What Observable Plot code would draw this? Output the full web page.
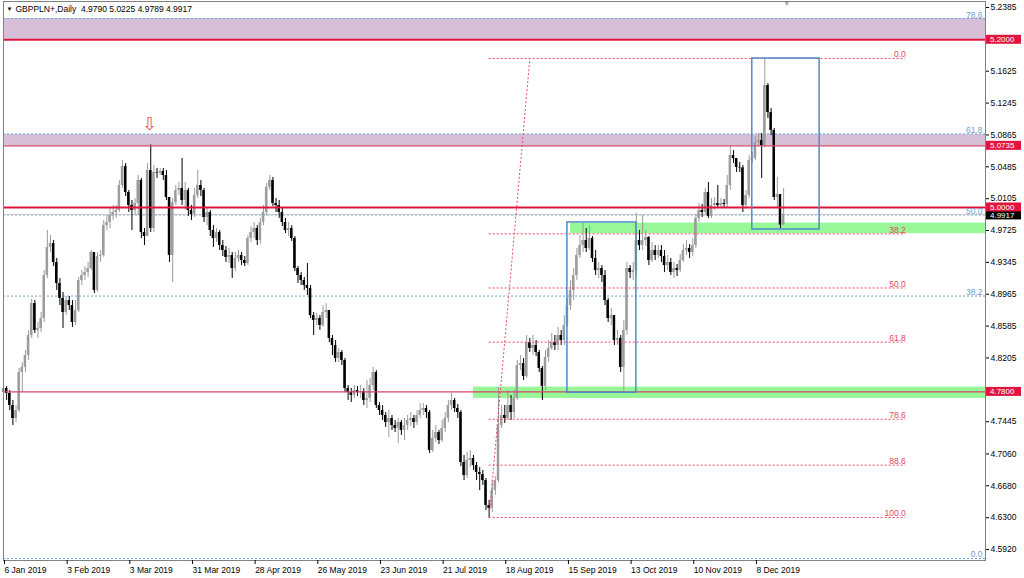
<!DOCTYPE html>
<html><head><meta charset="utf-8">
<script src="https://cdn.jsdelivr.net/npm/d3@7"></script>
<script src="https://cdn.jsdelivr.net/npm/@observablehq/plot@0.6"></script>
<style>body{margin:0;background:#fff}</style>
</head><body><div id="chart"></div>
<script>
const symbolName = "GBPPLN+";
const timeframe = "Daily";
const dateLabels = ["6 Jan 2019","3 Feb 2019","3 Mar 2019","31 Mar 2019","28 Apr 2019","26 May 2019","23 Jun 2019","21 Jul 2019","18 Aug 2019","15 Sep 2019","13 Oct 2019","10 Nov 2019","8 Dec 2019"];
const dateTickIdx = [0,20,40,60,80,100,120,140,160,180,200,220,240];
const yTickValues = [5.2385,5.1625,5.1245,5.0865,5.0485,5.0105,4.9725,4.9345,4.8965,4.8585,4.8205,4.7445,4.7060,4.6680,4.6300,4.5920];

const firstOpen = 4.7793;
const closes = [
4.7841,4.7781,4.7638,4.7483,4.7578,4.8031,4.8092,4.8234,4.8473,4.8854,
4.8533,4.8557,4.8676,4.9188,4.9523,4.9570,4.9343,4.9093,4.8915,4.8747,
4.8890,4.8830,4.8628,4.8771,4.9129,4.9188,4.9224,4.9272,4.9463,4.9010,
4.9415,4.9427,4.9784,4.9820,4.9904,4.9940,4.9964,5.0262,5.0488,5.0178,
5.0023,4.9964,5.0047,5.0322,4.9701,4.9653,5.0441,4.9749,5.0417,5.0410,
5.0429,5.0381,5.0119,4.9427,5.0059,5.0202,5.0227,5.0083,5.0202,4.9964,
4.9916,5.0142,5.0262,5.0202,4.9880,4.9940,4.9725,4.9630,4.9701,4.9546,
4.9487,4.9404,4.9427,4.9272,4.9392,4.9427,4.9367,4.9331,4.9630,4.9701,
4.9749,4.9606,4.9820,4.9940,5.0239,5.0322,5.0047,5.0023,4.9940,4.9820,
4.9725,4.9749,4.9630,4.9272,4.9188,4.9129,4.9069,4.9034,4.8711,4.8652,
4.8676,4.8592,4.8747,4.8771,4.8438,4.8354,4.8199,4.8270,4.8175,4.7841,
4.7793,4.7757,4.7817,4.7793,4.7805,4.7698,4.7722,4.7876,4.8031,4.7638,
4.7578,4.7519,4.7435,4.7483,4.7399,4.7364,4.7435,4.7340,4.7399,4.7459,
4.7483,4.7435,4.7519,4.7578,4.7602,4.7554,4.7101,4.7244,4.7316,4.7220,
4.7364,4.7483,4.7638,4.7698,4.7602,4.7554,4.6958,4.6803,4.6982,4.7006,
4.6922,4.6839,4.6815,4.6743,4.6445,4.6410,4.6624,4.6743,4.7399,4.7519,
4.7483,4.7638,4.7554,4.7722,4.8115,4.8139,4.7984,4.8389,4.8318,4.8354,
4.8270,4.8080,4.7864,4.8211,4.8318,4.8389,4.8354,4.8473,4.8413,4.8592,
4.8830,4.9010,4.9188,4.9427,4.9546,4.9606,4.9511,4.9630,4.9392,4.9248,
4.9272,4.9188,4.8890,4.8676,4.8711,4.8413,4.8438,4.8092,4.8533,4.9272,
4.9224,4.9248,4.9606,4.9546,4.9606,4.9642,4.9367,4.9487,4.9427,4.9487,
4.9415,4.9307,4.9343,4.9224,4.9272,4.9248,4.9367,4.9487,4.9511,4.9463,
4.9546,4.9869,4.9964,4.9940,5.0178,4.9892,5.0023,5.0047,5.0023,5.0047,
5.0035,5.0262,5.0620,5.0584,5.0477,5.0472,5.0023,5.0142,5.0560,5.0584,
5.0775,5.0799,5.0739,5.1455,5.1132,5.0918,5.0119,5.0154,4.9790,4.9917];
const highs = [
4.7900,4.7864,4.7817,4.7698,4.7638,4.8080,4.8151,4.8294,4.8533,4.8902,
4.8890,4.8628,4.8747,4.9248,4.9725,4.9665,4.9606,4.9392,4.9153,4.8986,
4.8938,4.8938,4.8890,4.8890,4.9165,4.9248,4.9295,4.9343,4.9487,4.9427,
4.9463,4.9487,4.9844,4.9904,4.9988,5.0023,5.0023,5.0322,5.0560,5.0524,
5.0202,5.0083,5.0107,5.0381,5.0346,4.9749,5.0524,5.0745,5.0500,5.0465,
5.0465,5.0465,5.0441,5.0119,5.0107,5.0262,5.0298,5.0584,5.0298,5.0227,
5.0023,5.0227,5.0441,5.0322,5.0227,5.0000,4.9964,4.9784,4.9749,4.9725,
4.9606,4.9534,4.9511,4.9463,4.9463,4.9487,4.9463,4.9415,4.9665,4.9772,
4.9820,4.9784,4.9869,5.0023,5.0286,5.0381,5.0358,5.0107,5.0083,4.9988,
4.9869,4.9820,4.9784,4.9653,4.9295,4.9224,4.9165,4.9331,4.9069,4.8747,
4.8735,4.8711,4.8830,4.8854,4.8771,4.8473,4.8413,4.8318,4.8294,4.8199,
4.7876,4.7841,4.7876,4.7864,4.7876,4.7841,4.7936,4.7960,4.8092,4.8055,
4.7674,4.7638,4.7554,4.7578,4.7519,4.7459,4.7483,4.7459,4.7483,4.7519,
4.7554,4.7519,4.7578,4.7662,4.7662,4.7638,4.7578,4.7340,4.7399,4.7340,
4.7459,4.7554,4.7698,4.7781,4.7722,4.7650,4.7578,4.7041,4.7077,4.7101,
4.7041,4.6958,4.6899,4.6863,4.6767,4.6505,4.6743,4.6791,4.7852,4.7638,
4.7638,4.7817,4.7757,4.7817,4.8175,4.8234,4.8199,4.8473,4.8438,4.8473,
4.8413,4.8294,4.8103,4.8294,4.8413,4.8497,4.8473,4.8569,4.8533,4.8711,
4.8915,4.9129,4.9272,4.9511,4.9665,4.9808,4.9749,4.9784,4.9653,4.9487,
4.9343,4.9307,4.9248,4.8915,4.8795,4.8711,4.8533,4.8473,4.8652,4.9343,
4.9307,4.9343,4.9928,4.9725,4.9904,4.9725,4.9653,4.9582,4.9546,4.9546,
4.9546,4.9487,4.9427,4.9392,4.9343,4.9319,4.9439,4.9558,4.9606,4.9558,
4.9630,4.9916,5.0047,5.0035,5.0227,5.0298,5.0107,5.0119,5.0262,5.0107,
5.0095,5.0381,5.0739,5.0679,5.0560,5.0536,5.0500,5.0202,5.0620,5.0656,
5.0846,5.0882,5.0882,5.1777,5.1478,5.1180,5.0942,5.0358,5.0142,5.0225];
const lows = [
4.7722,4.7698,4.7578,4.7399,4.7435,4.7554,4.7793,4.8031,4.8175,4.8438,
4.8497,4.8438,4.8509,4.8628,4.9153,4.9463,4.9295,4.9010,4.8830,4.8557,
4.8711,4.8771,4.8569,4.8592,4.8747,4.9069,4.9129,4.9165,4.9248,4.8974,
4.8986,4.9343,4.9404,4.9725,4.9749,4.9844,4.9869,4.9940,5.0227,5.0130,
4.9940,4.9725,4.9904,4.9904,4.9630,4.9546,4.9653,4.9701,4.9701,5.0346,
5.0381,5.0322,5.0083,4.9343,4.9105,5.0023,5.0142,5.0023,4.9964,4.9892,
4.9844,4.9880,5.0107,5.0130,4.9820,4.9784,4.9653,4.9523,4.9582,4.9487,
4.9415,4.9343,4.9331,4.9153,4.9236,4.9343,4.9307,4.9295,4.9307,4.9582,
4.9630,4.9546,4.9558,4.9784,4.9904,5.0202,5.0011,4.9940,4.9869,4.9772,
4.9689,4.9653,4.9594,4.9236,4.9093,4.9069,4.9010,4.8950,4.8676,4.8473,
4.8592,4.8533,4.8569,4.8676,4.8389,4.8234,4.8151,4.8151,4.8115,4.7793,
4.7698,4.7674,4.7722,4.7745,4.7722,4.7638,4.7602,4.7674,4.7817,4.7602,
4.7519,4.7459,4.7376,4.7256,4.7340,4.7316,4.7184,4.7280,4.7220,4.7340,
4.7387,4.7364,4.7399,4.7483,4.7519,4.7483,4.7065,4.7077,4.7196,4.7172,
4.7196,4.7316,4.7435,4.7578,4.7554,4.7483,4.6910,4.6743,4.6767,4.6899,
4.6863,4.6743,4.6624,4.6684,4.6386,4.6302,4.6362,4.6564,4.6719,4.7364,
4.7423,4.7459,4.7459,4.7483,4.7698,4.8055,4.7936,4.7960,4.8270,4.8234,
4.8222,4.8031,4.7698,4.7817,4.8151,4.8294,4.8294,4.8294,4.8354,4.8354,
4.8569,4.8771,4.8890,4.9129,4.9392,4.9463,4.9463,4.9487,4.9343,4.9188,
4.9153,4.9105,4.8830,4.8628,4.8592,4.8354,4.8354,4.8031,4.7805,4.8473,
4.9153,4.9129,4.9188,4.9487,4.9487,4.9534,4.9307,4.9343,4.9367,4.9392,
4.9343,4.9224,4.9248,4.9188,4.9153,4.9177,4.9224,4.9343,4.9427,4.9392,
4.9415,4.9511,4.9820,4.9880,4.9916,4.9869,4.9869,4.9964,4.9988,5.0000,
5.0000,5.0000,5.0202,5.0524,5.0417,5.0417,4.9940,4.9988,5.0107,5.0524,
5.0560,5.0727,5.0346,5.0715,5.1061,5.0858,5.0083,5.0000,4.9745,4.9789];

// horizontal levels
const majorLevels = [5.2000, 5.0000];
const minorLevels = [5.0735, 4.7800];
const pinkZoneLow = [5.2000, 5.0735];
const pinkZoneHigh = [5.2253, 5.0870];
const greenZoneLow = [4.9688, 4.7722];
const greenZoneHigh = [4.9814, 4.7857];
const greenZoneStart = [181, 150];
// Fibonacci tools
const fibRatios = [0, 0.382, 0.5, 0.618, 0.786, 0.886, 1];
const redFibLabels = ["0.0","38.2","50.0","61.8","78.6","88.6","100.0"];
const redFibHigh = 5.1777, redFibLow = 4.6302;
const redFibAnchorIdx = [155, 168];
const redFibEndIdx = 288;
const blueFibRatios = [0, 0.382, 0.5, 0.618, 0.786];
const blueFibLabels = ["0.0","38.2","50.0","61.8","78.6"];
const blueFibLow = 4.5813, blueFibHigh = 5.4007;
// rectangles
const boxX1 = [180, 239], boxX2 = [202, 260.5];
const boxTop = [4.9821, 5.1777], boxBottom = [4.7790, 4.9737];
// marker arrow bar
const arrowIdx = 47;

const xMax = 313.44;
const bars = closes.map((c, i) => {
  const o = i === 0 ? firstOpen : closes[i - 1];
  return {i, open: o, close: c, high: Math.max(highs[i], o, c), low: Math.min(lows[i], o, c)};
});
const last = bars[bars.length - 1];
const bull = "#9c9c9c", bear = "#000000";
const col = d => d.close >= d.open ? bull : bear;

const redFib = fibRatios.map((r, k) => ({p: redFibHigh - r * (redFibHigh - redFibLow), lbl: redFibLabels[k]}));
const blueFib = blueFibRatios.map((r, k) => ({p: blueFibLow + r * (blueFibHigh - blueFibLow), lbl: blueFibLabels[k]}));
const pinkZones = pinkZoneLow.map((lo, k) => ({lo, hi: pinkZoneHigh[k]}));
const greenZones = greenZoneLow.map((lo, k) => ({lo, hi: greenZoneHigh[k], from: greenZoneStart[k]}));
const boxes = boxX1.map((x1, k) => ({x1, x2: boxX2[k], y1: boxBottom[k], y2: boxTop[k]}));
const header = `${symbolName},${timeframe}  ${last.open.toFixed(4)} ${last.high.toFixed(4)} ${last.low.toFixed(4)} ${last.close.toFixed(4)}`;

const FONT = "'Liberation Sans', Arial, sans-serif";
const chart = Plot.plot({
  width: 1024, height: 578,
  marginLeft: 3, marginRight: 39, marginTop: 1, marginBottom: 18,
  style: {fontFamily: FONT, fontSize: "8.5px", background: "#fff", color: "#000"},
  x: {type: "linear", domain: [0, xMax]},
  y: {domain: [4.57891, 5.24566]},
  marks: [
    Plot.rect(pinkZones, {x1: () => 0, x2: () => xMax, y1: "lo", y2: "hi", fill: "#d8bfd8"}),
    Plot.rect(greenZones, {x1: "from", x2: () => xMax, y1: "lo", y2: "hi", fill: "#98f898"}),
    Plot.ruleY(blueFib, {y: "p", stroke: "#6a9fd6", strokeDasharray: "2,2"}),
    Plot.ruleY([last.close], {stroke: "#c8c8c8"}),
    Plot.ruleX(bars, {x: "i", y1: "low", y2: "high", stroke: col, strokeWidth: 1}),
    Plot.rect(bars, {x1: d => d.i - 0.4, x2: d => d.i + 0.4, y1: "open", y2: "close", fill: col}),
    Plot.ruleY(majorLevels, {stroke: "#e0143c", strokeWidth: 2}),
    Plot.ruleY(minorLevels, {stroke: "#d4456b", strokeWidth: 1.2}),
    Plot.ruleY(redFib, {y: "p", x1: () => redFibAnchorIdx[0], x2: () => redFibEndIdx, stroke: "#ec4a62", strokeDasharray: "2,2"}),
    Plot.link([{}], {x1: () => redFibAnchorIdx[0], y1: () => redFibLow, x2: () => redFibAnchorIdx[1], y2: () => redFibHigh, stroke: "#ec4a62", strokeDasharray: "2,2"}),
    Plot.rect(boxes, {x1: "x1", x2: "x2", y1: "y1", y2: "y2", fill: "none", stroke: "#4f8cc9", strokeWidth: 1.5}),
    Plot.text(redFib, {x: () => redFibEndIdx, y: "p", text: "lbl", textAnchor: "end", lineAnchor: "bottom", dy: -1, fill: "#e5455c"}),
    Plot.text(blueFib, {x: () => xMax, y: "p", text: "lbl", textAnchor: "end", lineAnchor: "bottom", dx: -3, dy: -1, fill: "#6f9fd6"}),
    Plot.text([bars[arrowIdx]], {x: "i", y: "high", text: () => "\u21E9", dy: -21, dx: -1, fill: "#f0505f", fontSize: 18}),
    Plot.text([bars.length], {x: d => d, frameAnchor: "top", text: () => "\u25BC", fill: "#a8a8a8", fontSize: 7, lineAnchor: "top", dy: 0}),
    Plot.text(["\u25BC"], {frameAnchor: "top-left", dx: 3, dy: 8, textAnchor: "start", lineAnchor: "middle", fontSize: 6}),
    Plot.text([header], {frameAnchor: "top-left", dx: 12, dy: 8, textAnchor: "start", lineAnchor: "middle", fontSize: 8.5}),
    Plot.frame({stroke: "#808080"}),
    Plot.axisY({anchor: "right", ticks: yTickValues, tickFormat: d => d.toFixed(4), tickSize: 3, tickPadding: 2, label: null}),
    Plot.axisX({ticks: dateTickIdx, tickFormat: d => dateLabels[dateTickIdx.indexOf(d)], tickSize: 4, tickPadding: 2, textAnchor: "start", dx: 1, label: null})
  ]
});
document.getElementById("chart").appendChild(chart);

// price tags on the right axis
const tagValues = [5.2000, 5.0735, last.close, 5.0000, 4.7800];
const ys = chart.scale("y"), xs = chart.scale("x");
const xr = xs.apply(xMax);
const g = d3.select(chart).append("g")
  .attr("font-family", FONT).attr("font-size", 8).attr("text-anchor", "start");
tagValues.forEach(v => {
  const isBid = v === last.close;
  const y = ys.apply(v) + (isBid ? 1 : 0);
  g.append("rect").attr("x", xr + 1).attr("y", y - 4.5).attr("width", 35).attr("height", 9)
    .attr("fill", isBid ? "#000" : "#e0143c");
  g.append("text").attr("x", xr + 5).attr("y", y + 2.9).attr("text-anchor", "start")
    .attr("fill", "#fff").text(v.toFixed(4));
});
</script>
</body></html>
